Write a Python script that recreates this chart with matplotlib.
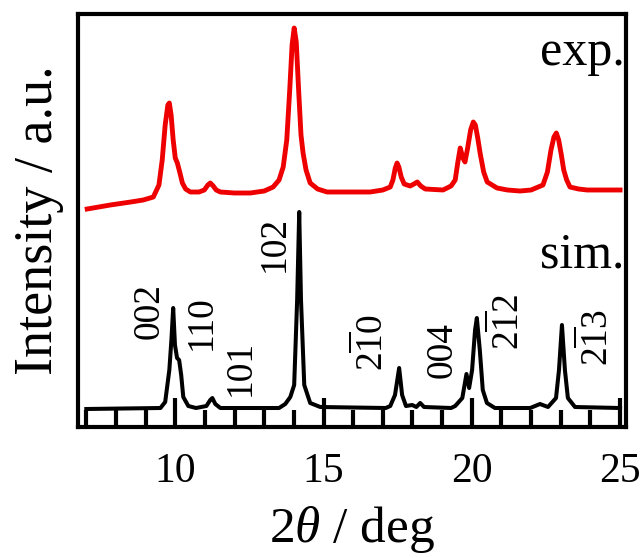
import matplotlib
matplotlib.use("Agg")
import matplotlib.pyplot as plt
from matplotlib.ticker import MultipleLocator

plt.rcParams['font.family'] = ['Liberation Serif', 'DejaVu Serif']
plt.rcParams['mathtext.fontset'] = 'custom'
plt.rcParams['mathtext.rm'] = 'Liberation Serif'
plt.rcParams['mathtext.it'] = 'Liberation Serif:italic'

exp_2theta = [7.03, 7.81, 8.50, 8.92, 9.26, 9.45, 9.56, 9.66, 9.75, 9.80, 9.86, 9.93,
              10.00, 10.07, 10.15, 10.24, 10.35, 10.51, 10.80, 10.98, 11.10, 11.18,
              11.28, 11.38, 11.52, 12.00, 12.53, 13.00, 13.30, 13.50, 13.64, 13.76,
              13.86, 13.94, 14.01, 14.08, 14.16, 14.24, 14.31, 14.41, 14.55, 14.80,
              15.12, 16.00, 16.57, 17.00, 17.25, 17.34, 17.42, 17.48, 17.54, 17.62,
              17.72, 17.92, 18.05, 18.16, 18.28, 18.43, 19.03, 19.30, 19.44, 19.53,
              19.61, 19.70, 19.77, 19.86, 19.96, 20.05, 20.12, 20.20, 20.28, 20.40,
              20.52, 20.85, 21.20, 21.63, 22.00, 22.40, 22.55, 22.67, 22.77, 22.85,
              22.93, 23.02, 23.10, 23.20, 23.31, 23.60, 23.89, 24.50, 25.00]
exp_int = [-17, -13, -10, -8, -5, 7, 32, 67, 87, 89, 77, 52,
           34, 29, 20, 9, 3, 0, 0, 2, 7, 9,
           6, 2, 0, -1, -1, 1, 5, 12, 25, 52,
           102, 147, 164, 150, 102, 57, 39, 22, 9, 3,
           0, 0, 0, 2, 5, 12, 24, 29, 25, 15,
           8, 6, 8, 10, 6, 3, 2, 6, 12, 30,
           44, 34, 30, 44, 62, 70, 67, 54, 39, 20,
           10, 4, 2, 1, 2, 7, 20, 42, 55, 59,
           52, 37, 22, 12, 5, 3, 2, 2, 2]

# simulated pattern, baseline 0
sim_2theta = [7.00, 9.50, 9.66, 9.80, 9.87, 9.93, 9.99, 10.06, 10.13, 10.20, 10.27,
              10.44, 10.70, 11.05, 11.18, 11.25, 11.35, 11.52, 13.50, 13.71, 13.88,
              14.01, 14.11, 14.18, 14.24, 14.35, 14.55, 14.89, 17.10, 17.25, 17.41,
              17.55, 17.65, 17.78, 17.99, 18.13, 18.26, 18.39, 19.30, 19.44, 19.68,
              19.82, 19.91, 20.01, 20.11, 20.17, 20.27, 20.37, 20.51, 20.78, 21.97,
              22.30, 22.57, 22.84, 22.94, 23.04, 23.14, 23.24, 23.48, 25.00]
sim_int = [0, 1, 7, 39, 69, 101, 64, 51, 49, 34, 12,
           3, 1, 3, 9, 11, 5, 1, 1, 5, 12,
           24, 109, 197, 109, 24, 6, 2, 1, 3, 14,
           41, 14, 3, 4, 2, 6, 2, 1, 3, 11,
           35, 21, 39, 79, 91, 59, 19, 6, 1, 1,
           5, 2, 11, 39, 84, 39, 11, 2, 1]

EXP_OFFSET = 235
SIM_OFFSET = 18

hkl_labels = ['002', '110', '101', '102', r'2$\overline{1}$0', '004',
              r'2$\overline{1}$2', r'2$\overline{1}$3']
hkl_x = [9.12, 10.88, 12.19, 13.34, 16.62, 19.00, 21.22, 24.22]
hkl_y = [116, 104, 59, 183, 84, 77, 105, 89]

fig = plt.figure(figsize=(6.41, 5.58), dpi=100)
ax = fig.add_axes([78 / 641, 131 / 558, 548 / 641, 413 / 558])

ax.plot(exp_2theta, [v + EXP_OFFSET for v in exp_int], color='#ee0000', lw=3.5,
        solid_joinstyle='round')
ax.plot(sim_2theta, [v + SIM_OFFSET for v in sim_int], color='black', lw=2.9,
        solid_joinstyle='round')

for lab, x, y in zip(hkl_labels, hkl_x, hkl_y):
    ax.text(x, y, lab, rotation=90, ha='center', va='center', fontsize=27)

ax.text(25.15, 362, 'exp.', ha='right', va='baseline', fontsize=36)
ax.text(25.15, 159, 'sim.', ha='right', va='baseline', fontsize=36)

ax.set_xlim(6.72, 25.2)
ax.set_ylim(0, 413)
ax.set_yticks([])
ax.xaxis.set_major_locator(MultipleLocator(5))
ax.xaxis.set_minor_locator(MultipleLocator(1))
ax.tick_params(axis='x', which='major', direction='in', length=21, width=3,
               labelsize=30, pad=18)
ax.tick_params(axis='x', which='minor', direction='in', length=12, width=3)
for s in ax.spines.values():
    s.set_linewidth(3)

ax.set_xlabel(r'2$\mathit{\theta}$ / deg', fontsize=37, labelpad=10)
ax.set_ylabel('Intensity / a.u.', fontsize=39, labelpad=10)

fig.savefig('out.png', dpi=100)
